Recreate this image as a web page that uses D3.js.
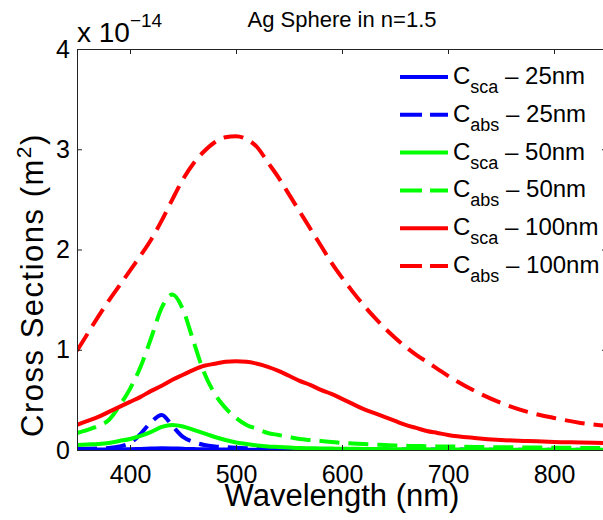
<!DOCTYPE html>
<html>
<head>
<meta charset="utf-8">
<script src="https://cdn.jsdelivr.net/npm/d3@7"></script>
<style>
  body { margin: 0; background: #fff; }
  svg { display: block; font-family: "Liberation Sans", Arial, Helvetica, sans-serif; }
</style>
</head>
<body>
<svg id="chart" width="603" height="520"></svg>
<script>
// values are in units of 1e-14 m^2
const wavelength = [350, 360, 370, 380, 390, 400, 410, 420, 430, 440, 450, 460, 470, 480, 490, 500,
  510, 520, 530, 540, 550, 560, 570, 580, 590, 600, 610, 620, 630, 640, 650, 660, 670, 680, 690, 700,
  725, 750, 775, 800, 825, 850];

const scaSmall = [0.003, 0.004, 0.005, 0.006, 0.007, 0.008, 0.011, 0.014, 0.018, 0.016, 0.012, 0.009, 0.007, 0.005, 0.0045, 0.004,
  0.0035, 0.003, 0.0025, 0.002, 0.002, 0.0018, 0.0016, 0.0014, 0.0012, 0.001, 0.001, 0.0009, 0.0008, 0.0008, 0.0007, 0.0007, 0.0006, 0.0006, 0.0006, 0.0005,
  0.0005, 0.0004, 0.0004, 0.0004, 0.0003, 0.0003];
const absSmall = [0.01, 0.012, 0.015, 0.02, 0.035, 0.07, 0.16, 0.28, 0.35, 0.24, 0.13, 0.08, 0.05, 0.035, 0.028, 0.022,
  0.018, 0.015, 0.013, 0.011, 0.01, 0.009, 0.008, 0.0075, 0.007, 0.007, 0.006, 0.006, 0.0055, 0.005, 0.005, 0.0045, 0.0045, 0.004, 0.004, 0.004,
  0.0035, 0.003, 0.003, 0.0025, 0.0025, 0.002];
const scaMid = [0.05, 0.055, 0.06, 0.07, 0.09, 0.11, 0.14, 0.18, 0.23, 0.25, 0.235, 0.2, 0.165, 0.13, 0.1, 0.075,
  0.06, 0.045, 0.035, 0.03, 0.025, 0.02, 0.018, 0.016, 0.014, 0.013, 0.012, 0.011, 0.01, 0.009, 0.008, 0.0075, 0.007, 0.0065, 0.006, 0.006,
  0.005, 0.004, 0.0035, 0.003, 0.0025, 0.002];
const absMid = [0.17, 0.2, 0.24, 0.3, 0.44, 0.61, 0.83, 1.12, 1.42, 1.55, 1.4, 1.08, 0.77, 0.56, 0.42, 0.32,
  0.25, 0.21, 0.17, 0.15, 0.13, 0.11, 0.1, 0.09, 0.08, 0.07, 0.065, 0.06, 0.055, 0.05, 0.045, 0.042, 0.04, 0.038, 0.036, 0.035,
  0.03, 0.028, 0.025, 0.023, 0.021, 0.02];
const scaLarge = [0.25, 0.29, 0.33, 0.38, 0.43, 0.48, 0.53, 0.59, 0.64, 0.7, 0.75, 0.8, 0.84, 0.86, 0.88, 0.885,
  0.88, 0.86, 0.83, 0.79, 0.74, 0.69, 0.65, 0.6, 0.56, 0.51, 0.46, 0.41, 0.37, 0.33, 0.29, 0.25, 0.22, 0.19, 0.17, 0.15,
  0.12, 0.1, 0.09, 0.08, 0.075, 0.07];
const absLarge = [0.99, 1.16, 1.33, 1.49, 1.64, 1.79, 1.94, 2.1, 2.29, 2.5, 2.7, 2.86, 2.98, 3.07, 3.12, 3.13,
  3.1, 3.02, 2.87, 2.72, 2.55, 2.38, 2.21, 2.04, 1.87, 1.72, 1.58, 1.45, 1.33, 1.22, 1.12, 1.03, 0.95, 0.88, 0.81, 0.74,
  0.59, 0.47, 0.38, 0.32, 0.27, 0.24];

const xTicks = [400, 500, 600, 700, 800];
const yTicks = [0, 1, 2, 3, 4];

const series = [
  { kind: "sca", size: "25nm", color: "#0000ff", dashed: false, values: scaSmall },
  { kind: "abs", size: "25nm", color: "#0000ff", dashed: true, values: absSmall },
  { kind: "sca", size: "50nm", color: "#00ff00", dashed: false, values: scaMid },
  { kind: "abs", size: "50nm", color: "#00ff00", dashed: true, values: absMid },
  { kind: "sca", size: "100nm", color: "#ff0000", dashed: false, values: scaLarge },
  { kind: "abs", size: "100nm", color: "#ff0000", dashed: true, values: absLarge }
];

const svg = d3.select("#chart");
const plotLeft = 77, plotRight = 607, plotTop = 49, plotBottom = 450;
const axisColor = "#222";
const dash = "20,9";

const x = d3.scaleLinear().domain([350, 850]).range([plotLeft, plotRight]);
const y = d3.scaleLinear().domain([0, 4]).range([plotBottom, plotTop]);

svg.append("clipPath").attr("id", "plot-clip")
  .append("rect")
  .attr("x", plotLeft).attr("y", plotTop)
  .attr("width", plotRight - plotLeft).attr("height", plotBottom - plotTop);

// curves
const line = d3.line()
  .x((d, i) => x(wavelength[i]))
  .y(d => y(d))
  .curve(d3.curveMonotoneX);

const curves = svg.append("g").attr("clip-path", "url(#plot-clip)");
series.forEach(s => {
  curves.append("path")
    .attr("d", line(s.values))
    .attr("fill", "none")
    .attr("stroke", s.color)
    .attr("stroke-width", 4)
    .attr("stroke-dasharray", s.dashed ? dash : null);
});

// axes box, ticks inward
function styleAxis(g) {
  g.attr("font-family", null).attr("font-size", null);
  g.selectAll(".domain").attr("stroke", axisColor).attr("fill", "none");
  g.selectAll(".tick line").attr("stroke", axisColor);
  g.selectAll("text").attr("fill", "#000").style("font-size", "25px");
}

svg.append("g")
  .attr("transform", `translate(0,${plotBottom})`)
  .call(d3.axisBottom(x).tickValues(xTicks).tickSizeInner(-5).tickSizeOuter(0).tickPadding(15))
  .call(styleAxis);

svg.append("g")
  .attr("transform", `translate(0,${plotTop})`)
  .call(d3.axisTop(x).tickValues(xTicks).tickFormat("").tickSizeInner(-5).tickSizeOuter(0))
  .call(styleAxis);

svg.append("g")
  .attr("transform", `translate(${plotLeft},0)`)
  .call(d3.axisLeft(y).tickValues(yTicks).tickFormat(d3.format("d")).tickSizeInner(-5).tickSizeOuter(0).tickPadding(7))
  .call(styleAxis);

svg.append("g")
  .attr("transform", `translate(${plotRight},0)`)
  .call(d3.axisRight(y).tickValues(yTicks).tickFormat("").tickSizeInner(-5).tickSizeOuter(0))
  .call(styleAxis);

// exponent
const expo = svg.append("text")
  .attr("x", plotLeft)
  .attr("y", 42)
  .style("font-size", "28px")
  .text("x 10");
expo.append("tspan")
  .attr("dy", -15)
  .style("font-size", "19px")
  .text("\u221214");

// title
svg.append("text")
  .attr("x", (plotLeft + plotRight) / 2)
  .attr("y", 27)
  .attr("text-anchor", "middle")
  .style("font-size", "22px")
  .text("Ag Sphere in n=1.5");

// axis labels
svg.append("text")
  .attr("x", (plotLeft + plotRight) / 2)
  .attr("y", 506)
  .attr("text-anchor", "middle")
  .style("font-size", "31px")
  .text("Wavelength (nm)");

const ylab = svg.append("text")
  .attr("transform", `translate(43,285) rotate(-90)`)
  .attr("text-anchor", "middle")
  .style("font-size", "31px")
  .style("letter-spacing", "1.5px")
  .text("Cross Sections (m");
ylab.append("tspan").attr("dy", -12).style("font-size", "21px").text("2");
ylab.append("tspan").attr("dy", 12).text(")");

// legend
const legend = svg.append("g");
series.forEach((s, i) => {
  const ly = 77 + i * 37.8;
  legend.append("line")
    .attr("x1", 400).attr("x2", 448)
    .attr("y1", ly).attr("y2", ly)
    .attr("stroke", s.color)
    .attr("stroke-width", 4)
    .attr("stroke-dasharray", s.dashed ? "22,8" : null);
  const t = legend.append("text")
    .attr("x", 453)
    .attr("y", ly + 7)
    .style("font-size", "24px")
    .text("C");
  t.append("tspan").attr("dy", 9).style("font-size", "18px").text(s.kind);
  t.append("tspan").attr("dy", -9).text(" \u2013 " + s.size);
});
</script>
</body>
</html>
